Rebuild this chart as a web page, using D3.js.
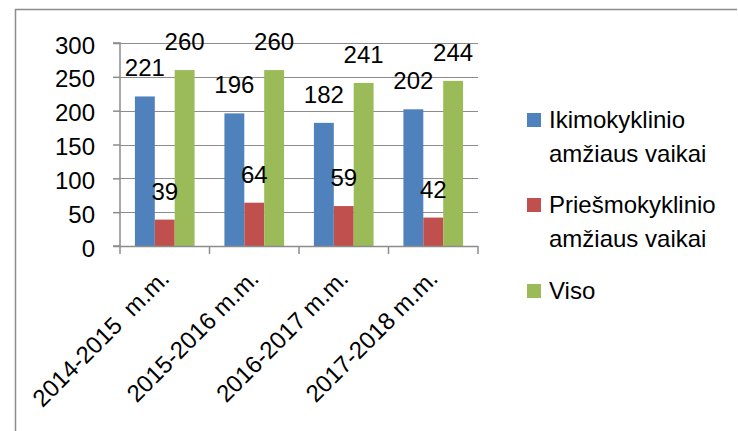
<html>
<head>
<meta charset="utf-8">
<script src="https://d3js.org/d3.v7.min.js"></script>
<style>
body { margin: 0; background: #fff; }
text { font-family: "Liberation Sans", Arial, sans-serif; fill: #000; }
</style>
</head>
<body>
<div id="chart"></div>
<script>
// chart data
var categories = ["2014-2015  m.m.", "2015-2016 m.m.", "2016-2017 m.m.", "2017-2018 m.m."];
var seriesNames = ["Ikimokyklinio amžiaus vaikai", "Priešmokyklinio amžiaus vaikai", "Viso"];
var ikimokyklinio = [221, 196, 182, 202];
var priesmokyklinio = [39, 64, 59, 42];
var viso = [260, 260, 241, 244];
var yTicks = [0, 50, 100, 150, 200, 250, 300];
var legendLines = [["Ikimokyklinio", "amžiaus vaikai"], ["Priešmokyklinio", "amžiaus vaikai"], ["Viso"]];
var colors = ["#4F81BD", "#C0504D", "#9BBB59"];

var W = 738, H = 431;
var plot = {left: 120, right: 478, top: 43, bottom: 246};
var fontSize = "24px";

var svg = d3.select("#chart").append("svg")
    .attr("width", W)
    .attr("height", H);

// chart border (top and left visible)
svg.append("path")
    .attr("d", "M15.5," + H + "V9.5H737")
    .attr("fill", "none")
    .attr("stroke", "#8c8c8c")
    .attr("stroke-width", 1.5);

var x = d3.scaleBand()
    .domain(categories)
    .range([plot.left, plot.right]);

// gap width 150% -> outer padding 0.75 of a bar on each side
var x1 = d3.scaleBand()
    .domain(d3.range(seriesNames.length))
    .range([0, x.bandwidth()])
    .paddingInner(0)
    .paddingOuter(0.75);

var y = d3.scaleLinear()
    .domain([0, 300])
    .range([plot.bottom, plot.top]);

// gridlines
svg.append("g")
  .selectAll("line")
  .data(yTicks.slice(1))
  .enter().append("line")
    .attr("x1", plot.left)
    .attr("x2", plot.right)
    .attr("y1", function(d) { return Math.round(y(d)) + 0.5; })
    .attr("y2", function(d) { return Math.round(y(d)) + 0.5; })
    .attr("stroke", "#8c8c8c")
    .attr("stroke-width", 1.2);

// bars
var data = [ikimokyklinio, priesmokyklinio, viso];
var groups = svg.append("g")
  .selectAll("g")
  .data(categories)
  .enter().append("g")
    .attr("transform", function(d) { return "translate(" + x(d) + ",0)"; });

groups.selectAll("rect")
  .data(function(d, i) { return data.map(function(s, k) { return {k: k, v: s[i]}; }); })
  .enter().append("rect")
    .attr("x", function(d) { return x1(d.k); })
    .attr("width", x1.bandwidth())
    .attr("y", function(d) { return y(d.v); })
    .attr("height", function(d) { return y(0) - y(d.v); })
    .attr("fill", function(d) { return colors[d.k]; });

// value labels
groups.selectAll("text")
  .data(function(d, i) { return data.map(function(s, k) { return {k: k, v: s[i]}; }); })
  .enter().append("text")
    .attr("x", function(d) { return x1(d.k) + x1.bandwidth() / 2; })
    .attr("y", function(d) { return y(d.v) - 20; })
    .attr("text-anchor", "middle")
    .style("font-size", fontSize)
    .text(function(d) { return d.v; });

// y axis
var yAxis = svg.append("g")
    .attr("transform", "translate(" + plot.left + ",0)")
    .call(d3.axisLeft(y).tickValues(yTicks).tickSize(7).tickPadding(18));
yAxis.selectAll("text").style("font-size", fontSize).attr("dy", "0.42em");
yAxis.selectAll(".domain, .tick line").attr("stroke", "#8c8c8c").attr("stroke-width", 1.5);
yAxis.select(".domain").attr("d", "M-7," + plot.top + "H0V" + plot.bottom + "H-7");

// x axis
var xAxis = svg.append("g")
    .attr("transform", "translate(0," + plot.bottom + ")");
xAxis.append("line")
    .attr("x1", plot.left).attr("x2", plot.right)
    .attr("y1", 0.5).attr("y2", 0.5);
xAxis.selectAll("line.tick")
  .data(categories.concat(["end"]))
  .enter().append("line")
    .attr("class", "tick")
    .attr("x1", function(d, i) { return plot.left + i * x.bandwidth(); })
    .attr("x2", function(d, i) { return plot.left + i * x.bandwidth(); })
    .attr("y1", 0).attr("y2", 8);
xAxis.selectAll("line").attr("stroke", "#8c8c8c").attr("stroke-width", 1.5);
xAxis.selectAll("text")
  .data(categories)
  .enter().append("text")
    .attr("transform", function(d) {
      return "translate(" + (x(d) + x.bandwidth() / 2 + 6) + ",34) rotate(-45)";
    })
    .attr("text-anchor", "end")
    .attr("xml:space", "preserve")
    .style("white-space", "pre")
    .style("font-size", fontSize)
    .text(function(d) { return d; });

// legend
var legendTop = [113, 198, 284];
var legend = svg.append("g");
legendLines.forEach(function(lines, i) {
  legend.append("rect")
    .attr("x", 527).attr("y", legendTop[i])
    .attr("width", 14).attr("height", 14)
    .attr("fill", colors[i]);
  lines.forEach(function(t, j) {
    legend.append("text")
      .attr("x", 549)
      .attr("y", legendTop[i] + 15 + j * 34)
      .style("font-size", fontSize)
      .text(t);
  });
});
</script>
</body>
</html>
